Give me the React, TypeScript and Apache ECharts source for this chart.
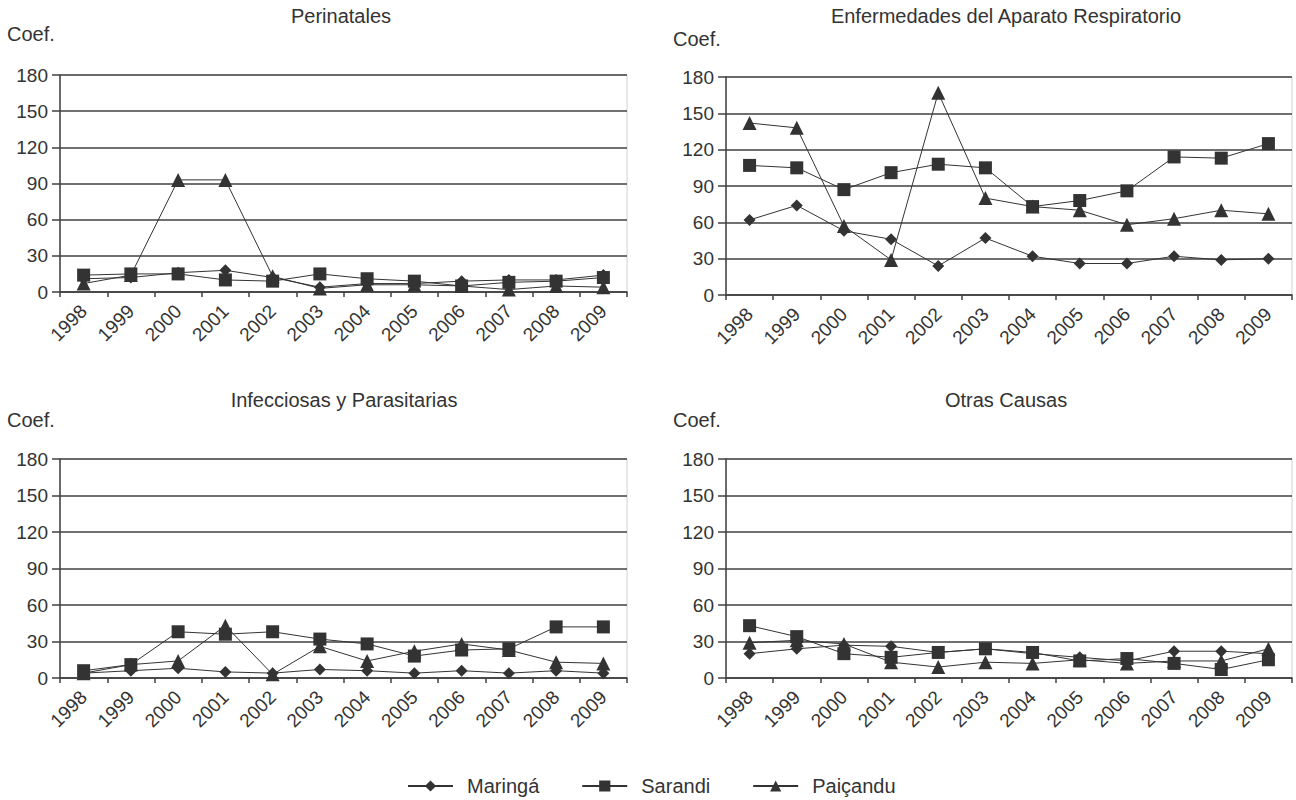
import React, { useEffect, useRef } from "react";
import * as echarts from "echarts";

const years = ["1998", "1999", "2000", "2001", "2002", "2003", "2004", "2005", "2006", "2007", "2008", "2009"];
const seriesNames = ["Maringá", "Sarandi", "Paiçandu"];
const panelTitles = ["Perinatales", "Enfermedades del Aparato Respiratorio", "Infecciosas y Parasitarias", "Otras Causas"];
const yAxisLabel = "Coef.";

const perinatalesMaringa = [11, 12, 16, 18, 12, 4, 7, 7, 9, 10, 10, 14];
const perinatalesSarandi = [14, 15, 15, 10, 9, 15, 11, 9, 5, 8, 9, 12];
const perinatalesPaicandu = [7, 14, 93, 93, 13, 3, 6, 6, 5, 2, 5, 4];

const respMaringa = [62, 74, 53, 46, 24, 47, 32, 26, 26, 32, 29, 30];
const respSarandi = [107, 105, 87, 101, 108, 105, 73, 78, 86, 114, 113, 125];
const respPaicandu = [142, 138, 57, 29, 167, 80, 73, 70, 58, 63, 70, 67];

const infMaringa = [4, 6, 8, 5, 4, 7, 6, 4, 6, 4, 6, 4];
const infSarandi = [6, 11, 38, 36, 38, 32, 28, 18, 23, 24, 42, 42];
const infPaicandu = [4, 11, 14, 43, 3, 26, 14, 22, 28, 23, 13, 12];

const otrasMaringa = [20, 24, 27, 26, 21, 24, 20, 17, 14, 22, 22, 20];
const otrasSarandi = [43, 34, 20, 17, 21, 24, 21, 14, 16, 12, 7, 15];
const otrasPaicandu = [29, 31, 28, 13, 9, 13, 12, 15, 12, 14, 14, 24];

const panelData = [
  [perinatalesMaringa, perinatalesSarandi, perinatalesPaicandu],
  [respMaringa, respSarandi, respPaicandu],
  [infMaringa, infSarandi, infPaicandu],
  [otrasMaringa, otrasSarandi, otrasPaicandu],
];

const yMin = 0;
const yMax = 180;
const yInterval = 30;

const FONT = "'Liberation Sans', Arial, sans-serif";
const INK = "#333333";
const GRID_INK = "#404040";

const grids = [
  { left: 60, top: 75, width: 567, height: 217 },
  { left: 726, top: 77, width: 566, height: 218 },
  { left: 60, top: 459, width: 567, height: 219 },
  { left: 726, top: 459, width: 566, height: 219 },
];

const titlePos = [
  { x: 341, y: 15.5 },
  { x: 1006, y: 16 },
  { x: 344, y: 400 },
  { x: 1006, y: 400 },
];
const coefPos = [
  { x: 7, y: 34 },
  { x: 673, y: 39 },
  { x: 7, y: 420 },
  { x: 673, y: 420 },
];

const symbols = ["diamond", "rect", "triangle"];
const symbolSizes = [12, 13, 14];

export default function App() {
  const ref = useRef<HTMLDivElement>(null);
  useEffect(() => {
    if (!ref.current) return;
    const chart = echarts.init(ref.current, undefined, { renderer: "svg" });

    const series: any[] = [];
    panelData.forEach((arrs, gi) => {
      arrs.forEach((vals, si) => {
        series.push({
          type: "line",
          name: seriesNames[si],
          xAxisIndex: gi,
          yAxisIndex: gi,
          data: vals,
          symbol: symbols[si],
          symbolSize: symbolSizes[si],
          lineStyle: { color: INK, width: 1 },
          itemStyle: { color: INK, borderWidth: 0 },
          z: 3 + si,
        });
      });
    });

    const graphics: any[] = [];
    panelTitles.forEach((t, i) => {
      graphics.push({
        type: "text",
        x: titlePos[i].x,
        y: titlePos[i].y,
        style: { text: t, fontSize: 20, fontFamily: FONT, fill: INK, textAlign: "center", textVerticalAlign: "middle" },
      });
      graphics.push({
        type: "text",
        x: coefPos[i].x,
        y: coefPos[i].y,
        style: { text: yAxisLabel, fontSize: 20, fontFamily: FONT, fill: INK, textAlign: "left", textVerticalAlign: "middle" },
      });
    });

    chart.setOption({
      animation: false,
      backgroundColor: "#ffffff",
      textStyle: { fontFamily: FONT },
      grid: grids.map((g) => ({ ...g, show: true, borderColor: "#d0d0d0", borderWidth: 1, containLabel: false })),
      xAxis: grids.map((_, i) => ({
        type: "category",
        gridIndex: i,
        data: years,
        boundaryGap: true,
        axisLine: { show: true, lineStyle: { color: GRID_INK, width: 1.5 } },
        axisTick: { show: true, length: 5, alignWithLabel: false, lineStyle: { color: GRID_INK, width: 1.5 } },
        axisLabel: { interval: 0, rotate: 45, fontSize: 19, color: INK, margin: 16, fontFamily: FONT },
        splitLine: { show: false },
      })),
      yAxis: grids.map((_, i) => ({
        type: "value",
        gridIndex: i,
        min: yMin,
        max: yMax,
        interval: yInterval,
        axisLine: { show: true, lineStyle: { color: GRID_INK, width: 1.5 } },
        axisTick: { show: true, length: 8, lineStyle: { color: GRID_INK, width: 1.5 } },
        axisLabel: { fontSize: 19, color: INK, margin: 12, fontFamily: FONT },
        splitLine: { show: true, lineStyle: { color: GRID_INK, width: 1.5 } },
      })),
      legend: {
        data: seriesNames,
        left: 407,
        top: 776,
        padding: 0,
        itemWidth: 45,
        itemHeight: 14,
        itemGap: 42,
        textStyle: { fontSize: 20, color: INK, fontFamily: FONT, padding: [0, 0, 0, 9] },
      },
      series,
      graphic: graphics,
    });

    return () => chart.dispose();
  }, []);

  return (
    <div
      ref={ref}
      style={{ position: "fixed", left: 0, top: 0, width: 1296, height: 800, background: "#fff" }}
    />
  );
}
